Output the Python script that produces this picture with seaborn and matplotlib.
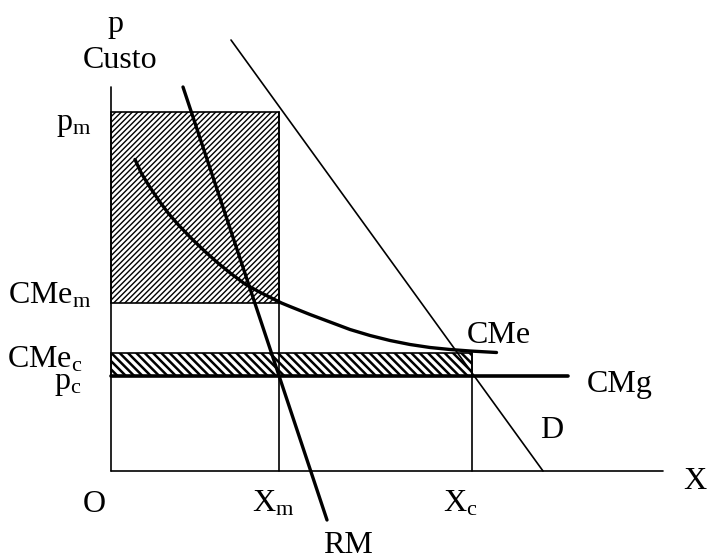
import matplotlib
matplotlib.use("Agg")
import matplotlib.pyplot as plt
import seaborn as sns
import pandas as pd
from matplotlib.patches import Rectangle

# ---- data (diagram units) ----
x_m, x_c = 33.6, 72.2
p_m, cme_m, cme_c, p_c = 71.8, 33.6, 23.6, 19.0
y_axis_top, x_axis_end = 76.8, 110.4

cme_x = [4.8, 6.1, 7.5, 9.5, 11.5, 13.5, 16.1, 18.8, 21.5, 24.1, 26.8, 29.5,
         32.1, 34.1, 35.8, 39.8, 43.8, 47.8, 51.8, 55.8, 59.8, 63.8, 67.8,
         71.8, 77.1]
cme_y = [62.3, 59.5, 57.2, 54.2, 51.5, 49.2, 46.5, 43.9, 41.5, 39.4, 37.4, 35.9,
         34.6, 33.6, 32.9, 31.3, 29.8, 28.3, 27.1, 26.1, 25.3, 24.7, 24.3,
         24.0, 23.7]
rm_x = [14.4, 43.2]
rm_y = [76.8, -9.8]
d_x = [24.0, 86.4]
d_y = [86.2, 0.0]
cmg_x = [0.0, 91.4]
cmg_y = [p_c, p_c]

sns.set_theme(style="white")
plt.rcParams["font.family"] = ["Liberation Serif", "DejaVu Serif"]
plt.rcParams["mathtext.fontset"] = "custom"
plt.rcParams["mathtext.rm"] = "Liberation Serif"
plt.rcParams["mathtext.it"] = "Liberation Serif"

fig = plt.figure(figsize=(7.09, 5.59), dpi=100)
ax = fig.add_axes([0, 0, 1, 1])
ax.set_xlim(-111 / 5, (709 - 111) / 5)
ax.set_ylim((471 - 559) / 5, 471 / 5)
ax.axis("off")

# hatched rectangles
plt.rcParams["hatch.linewidth"] = 1.0
big = Rectangle((0, cme_m), x_m, p_m - cme_m, facecolor="white",
                edgecolor="black", hatch="//////", linewidth=1.2, zorder=1)
ax.add_patch(big)
plt.rcParams["hatch.linewidth"] = 1.8
small = Rectangle((0, p_c), x_c, cme_c - p_c, facecolor="white",
                  edgecolor="black", hatch="\\\\\\\\", linewidth=1.2, zorder=1)
ax.add_patch(small)
try:
    big.set_hatch_linewidth(1.0)
    small.set_hatch_linewidth(1.8)
except Exception:
    pass

# axes and guide lines
thin = dict(color="black", linewidth=1.2, zorder=2)
ax.plot([0, 0], [0, y_axis_top], **thin)
ax.plot([0, x_axis_end], [0, 0], **thin)
ax.plot([x_m, x_m], [0, p_m], **thin)
ax.plot([x_c, x_c], [0, cme_c], **thin)

# curves via seaborn
def draw(xs, ys, lw):
    df = pd.DataFrame({"x": xs, "y": ys})
    sns.lineplot(data=df, x="x", y="y", ax=ax, sort=False, estimator=None,
                 color="black", linewidth=lw, zorder=3)

draw(d_x, d_y, 1.2)
draw(rm_x, rm_y, 2.4)
draw(cme_x, cme_y, 2.4)
draw(cmg_x, cmg_y, 2.6)
ax.axis("off")

fs = 23
def t(x, y, s, ha="left"):
    ax.text(x, y, s, fontsize=fs, ha=ha, va="baseline", color="black")

t(0.8, 87.8, "p", ha="center")
t(1.8, 80.6, "Custo", ha="center")
t(-4.0, 68.2, r"p$_\mathrm{m}$", ha="right")
t(-4.0, 33.6, r"CMe$_\mathrm{m}$", ha="right")
t(-5.6, 20.8, r"CMe$_\mathrm{c}$", ha="right")
t(-5.8, 16.4, r"p$_\mathrm{c}$", ha="right")
t(-3.4, -8.2, "O", ha="center")
t(28.2, -8.2, r"X$_\mathrm{m}$")
t(66.4, -8.2, r"X$_\mathrm{c}$")
t(47.4, -16.4, "RM", ha="center")
t(71.2, 25.6, "CMe")
t(95.2, 15.8, "CMg")
t(85.8, 6.6, "D")
t(114.4, -3.6, "X")

fig.savefig("out.png", dpi=100)
